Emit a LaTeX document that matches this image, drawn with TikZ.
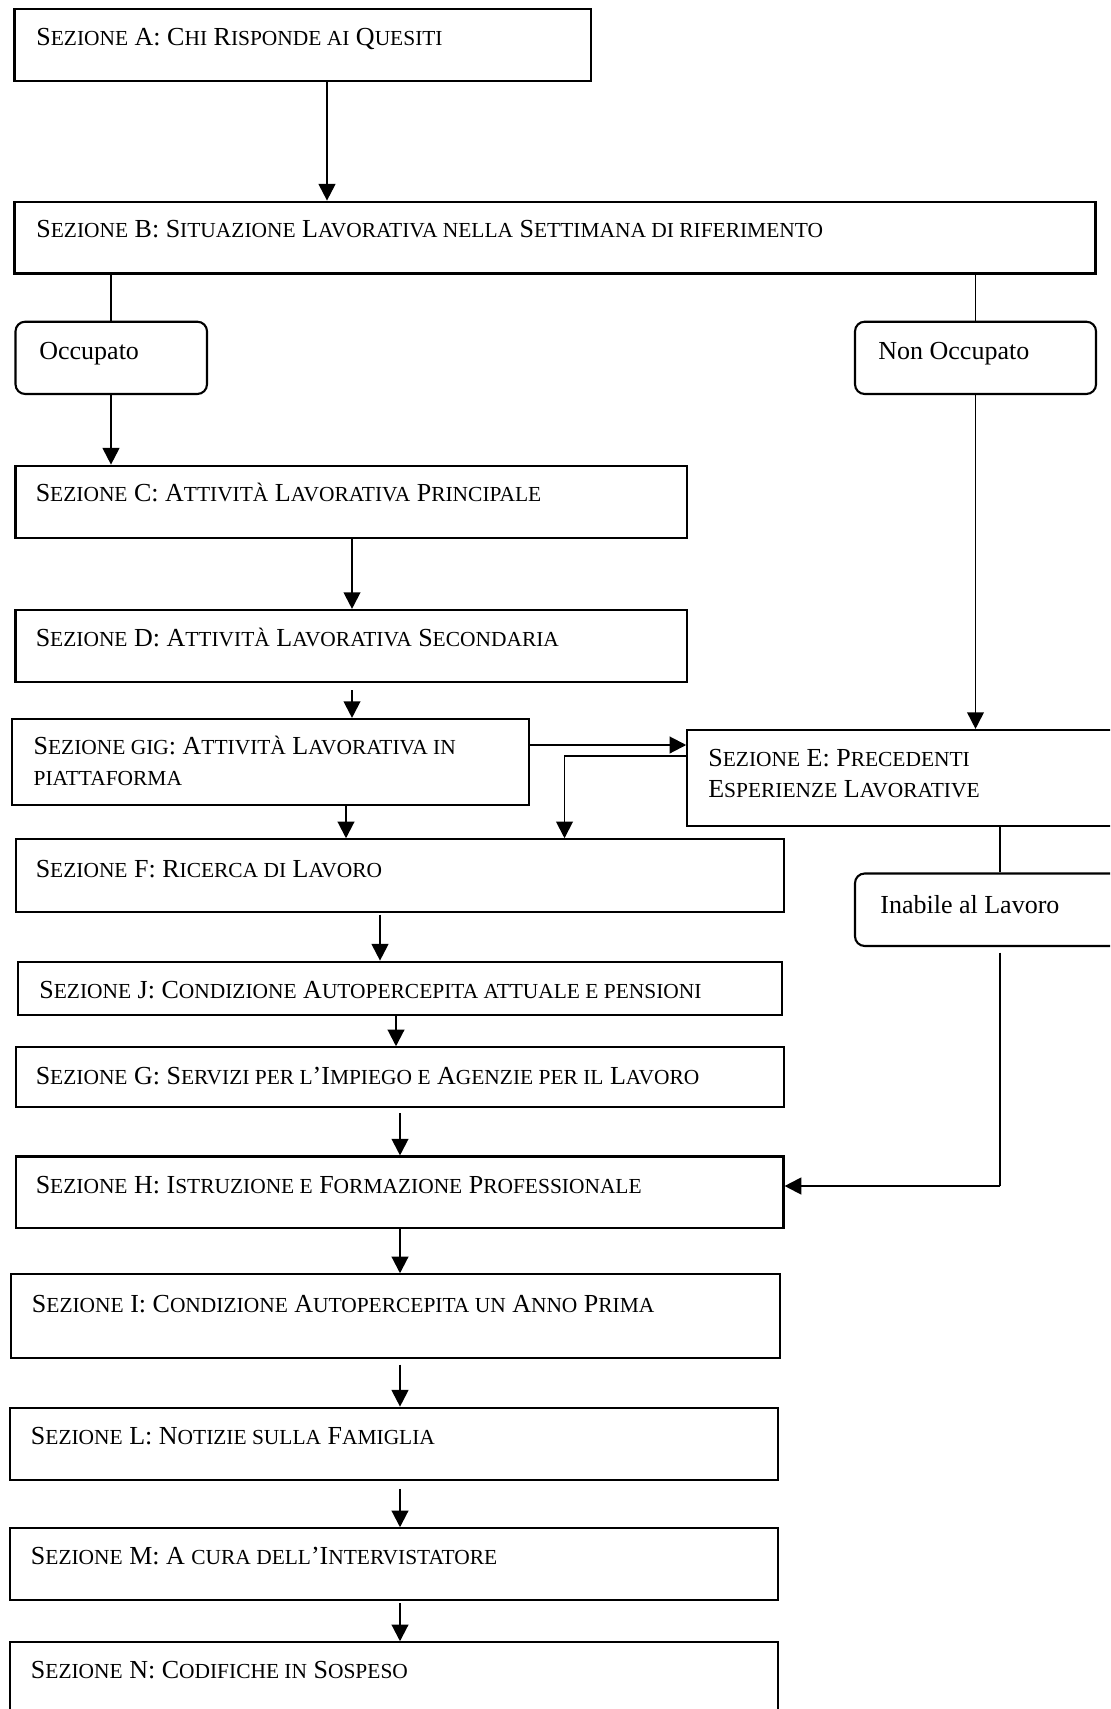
\documentclass[tikz,border=0pt]{standalone}
\usepackage{fontspec}
\setmainfont{Liberation Serif}
\usetikzlibrary{%
    fit,%
    arrows.meta%
}

% fake small caps, as in the original
\newcommand\sm[1]{{\fontsize{12.2}{14}\selectfont #1}}

\tikzset{
  >={Triangle[length=9.5pt,width=9.5pt]},
  sbox/.style={draw, line width=1.2pt, inner sep=0pt},
  rbox/.style={sbox, rounded corners=5.5pt},
  txt/.style={anchor=base west, inner sep=0pt, align=left,
    font=\fontsize{14.8}{17.6}\selectfont},
  link/.style={line width=0.7pt},
  flow/.style={->, line width=1.2pt}
}

\begin{document}
\begin{tikzpicture}[x=0.02cm, y=-0.02cm]
  \useasboundingbox (0,0) rectangle (1110,1709);
  \clip (0,0) rectangle (1110,1709);
  % boxes
  \node[sbox, fit={(14.5,9.3) (591,81)}] (A) {};
  \node[sbox, fit={(14.5,201.7) (1095.5,273.5)}] (B) {};
  \node[rbox, fit={(15.5,321.7) (207,394)}] (occ) {};
  \node[rbox, fit={(855,321.7) (1096,394)}] (non) {};
  \node[sbox, fit={(15.5,465.7) (687,537.7)}] (C) {};
  \node[sbox, fit={(15.5,610) (687,682)}] (D) {};
  \node[sbox, fit={(12,719) (529,805)}] (gig) {};
  \node[sbox, fit={(687.3,730) (1125,826)}] (E) {};
  \node[rbox, fit={(855,873.5) (1125,946)}] (inab) {};
  \node[sbox, fit={(15.6,839.3) (783.7,911.7)}] (F) {};
  \node[sbox, fit={(17.7,961.7) (782,1015)}] (J) {};
  \node[sbox, fit={(15.6,1047.3) (783.7,1107)}] (G) {};
  \node[sbox, fit={(15.6,1156.5) (783.5,1228.3)}] (H) {};
  \node[sbox, fit={(11.2,1274.3) (779.6,1358.3)}] (I) {};
  \node[sbox, fit={(9.7,1407.7) (778,1480)}] (L) {};
  \node[sbox, fit={(9.7,1528.3) (778,1600.3)}] (M) {};
  \node[sbox, fit={(9.7,1642.3) (778,1725)}] (N) {};
  % texts
  \node[txt] (A-t) at (36,46) {S\sm{EZIONE} A: C\sm{HI} R\sm{ISPONDE AI} Q\sm{UESITI}};
  \node[txt] (B-t) at (36,238) {S\sm{EZIONE} B: S\sm{ITUAZIONE} L\sm{AVORATIVA NELLA} S\sm{ETTIMANA DI RIFERIMENTO}};
  \node[txt] (occ-t) at (39,360) {Occupato};
  \node[txt] (non-t) at (878,360) {Non Occupato};
  \node[txt] (C-t) at (35.4,501) {S\sm{EZIONE} C: A\sm{TTIVITÀ} L\sm{AVORATIVA} P\sm{RINCIPALE}};
  \node[txt] (D-t) at (35.4,646) {S\sm{EZIONE} D: A\sm{TTIVITÀ} L\sm{AVORATIVA} S\sm{ECONDARIA}};
  \node[txt] (gig-t) at (33.3,785) {S\sm{EZIONE GIG}: A\sm{TTIVITÀ} L\sm{AVORATIVA IN}\\\sm{PIATTAFORMA}};
  \node[txt] (E-t) at (708,797) {S\sm{EZIONE} E: P\sm{RECEDENTI}\\E\sm{SPERIENZE} L\sm{AVORATIVE}};
  \node[txt] (inab-t) at (880,913) {Inabile al Lavoro};
  \node[txt] (F-t) at (35.4,877) {S\sm{EZIONE} F: R\sm{ICERCA DI} L\sm{AVORO}};
  \node[txt] (J-t) at (39,998) {S\sm{EZIONE} J: C\sm{ONDIZIONE} A\sm{UTOPERCEPITA ATTUALE E PENSIONI}};
  \node[txt] (G-t) at (35.4,1084) {S\sm{EZIONE} G: S\sm{ERVIZI PER L}’I\sm{MPIEGO E} A\sm{GENZIE PER IL} L\sm{AVORO}};
  \node[txt] (H-t) at (35.4,1193) {S\sm{EZIONE} H: I\sm{STRUZIONE E} F\sm{ORMAZIONE} P\sm{ROFESSIONALE}};
  \node[txt] (I-t) at (31.6,1312) {S\sm{EZIONE} I: C\sm{ONDIZIONE} A\sm{UTOPERCEPITA UN} A\sm{NNO} P\sm{RIMA}};
  \node[txt] (L-t) at (30.6,1444) {S\sm{EZIONE} L: N\sm{OTIZIE SULLA} F\sm{AMIGLIA}};
  \node[txt] (M-t) at (30.6,1564) {S\sm{EZIONE} M: A \sm{CURA DELL}’I\sm{NTERVISTATORE}};
  \node[txt] (N-t) at (30.6,1678) {S\sm{EZIONE} N: C\sm{ODIFICHE IN} S\sm{OSPESO}};
  % columns and rows of the connectors
  \coordinate (kA) at (327,0);
  \coordinate (kO) at (111,0);
  \coordinate (kN) at (975.5,0);
  \coordinate (kC) at (352,0);
  \coordinate (kF) at (346,0);
  \coordinate (kEF) at (564.5,0);
  \coordinate (kI) at (1000,0);
  \coordinate (kJ) at (380,0);
  \coordinate (kG) at (396,0);
  \coordinate (kM) at (400,0);
  \coordinate (rG) at (0,745);
  \coordinate (rE) at (0,756);
  \coordinate (kH) at (1000,1186);
  % connectors
  \draw[flow] (A.south -| kA) -- (B.north -| kA);
  \draw[link] (B.south -| kO) -- (occ.north -| kO);
  \draw[link] (B.south -| kN) -- (non.north -| kN);
  \draw[flow] (occ.south -| kO) -- (C.north -| kO);
  \draw[flow, line width=1pt] (non.south -| kN) -- (E.north -| kN);
  \draw[flow] (C.south -| kC) -- (D.north -| kC);
  \draw[flow, shorten <=4pt] (D.south -| kC) -- (gig.north -| kC);
  \draw[flow] (gig.east |- rG) -- (E.west |- rG);
  \draw[flow, line width=1.1pt] (E.west |- rE) -| (F.north -| kEF);
  \draw[flow] (gig.south -| kF) -- (F.north -| kF);
  \draw[link] (E.south -| kI) -- (inab.north -| kI);
  \draw[link, line width=0.8pt, shorten <=3.2pt] (inab.south -| kI) -- (kH);
  \draw[flow] (kH) -- (H.east |- kH);
  \draw[flow, shorten <=1pt] (F.south -| kJ) -- (J.north -| kJ);
  \draw[flow] (J.south -| kG) -- (G.north -| kG);
  \draw[flow, shorten <=3pt] (G.south -| kM) -- (H.north -| kM);
  \draw[flow] (H.south -| kM) -- (I.north -| kM);
  \draw[flow, shorten <=3pt] (I.south -| kM) -- (L.north -| kM);
  \draw[flow, shorten <=4.4pt] (L.south -| kM) -- (M.north -| kM);
  \draw[flow, shorten <=1pt] (M.south -| kM) -- (N.north -| kM);
\end{tikzpicture}
\end{document}
